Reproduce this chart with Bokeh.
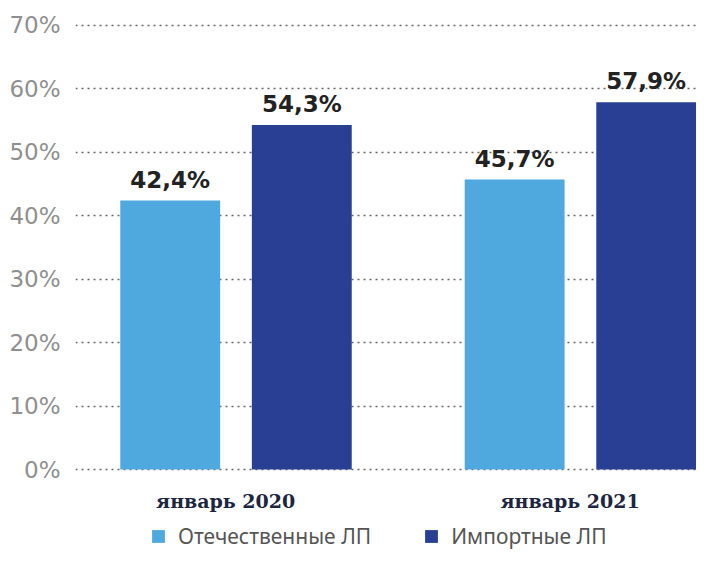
from bokeh.plotting import figure
from bokeh.layouts import column
from bokeh.models import ColumnDataSource, Range1d, FixedTicker, PrintfTickFormatter, Legend, LegendItem, LabelSet
from bokeh.transform import dodge
from bokeh.core.properties import value
from bokeh.embed import file_html
from bokeh.resources import INLINE

categories = ["январь 2020", "январь 2021"]
series = ["Отечественные ЛП", "Импортные ЛП"]
domestic = [42.4, 45.7]
imported = [54.3, 57.9]
colors = ["#4FA8DE", "#283F93"]
y_ticks = [0, 10, 20, 30, 40, 50, 60, 70]

xs = list(range(len(categories)))
src = ColumnDataSource(dict(
    x=xs, dom=domestic, imp=imported,
    dom_lbl=[f"{v:.1f}%".replace(".", ",") for v in domestic],
    imp_lbl=[f"{v:.1f}%".replace(".", ",") for v in imported],
))

p = figure(width=696, height=514, x_range=Range1d(-0.466, 1.337), y_range=Range1d(-0.31, 71.57),
           output_backend="svg", toolbar_location=None,
           min_border_left=75, min_border_right=0, min_border_top=15, min_border_bottom=42)
p.outline_line_color = None
p.background_fill_color = "white"

off = 0.191
w = 0.29
r1 = p.vbar(x=dodge("x", -off), top="dom", width=w, source=src, color=colors[0], line_color=None)
r2 = p.vbar(x=dodge("x", off), top="imp", width=w, source=src, color=colors[1], line_color=None)

for col, lbl, o in [("dom", "dom_lbl", -off), ("imp", "imp_lbl", off)]:
    p.add_layout(LabelSet(x=dodge("x", o), y=col, text=lbl, source=src, text_align="center",
                          text_baseline="bottom", y_offset=8, text_font=value("DejaVu Sans"),
                          text_font_style="bold", text_font_size="23px", text_color="#222222"))

p.xgrid.grid_line_color = None
p.ygrid.ticker = FixedTicker(ticks=y_ticks)
p.ygrid.grid_line_color = "#666666"
p.ygrid.grid_line_dash = "2 4"
p.ygrid.grid_line_width = 1.3

p.yaxis.ticker = FixedTicker(ticks=y_ticks)
p.yaxis.formatter = PrintfTickFormatter(format="%d%%")
p.yaxis.axis_line_color = None
p.yaxis.major_tick_line_color = None
p.yaxis.minor_tick_line_color = None
p.yaxis.major_label_text_font = "DejaVu Sans"
p.yaxis.major_label_text_font_size = "23px"
p.yaxis.major_label_text_color = "#8f8f8f"
p.yaxis.major_label_standoff = 9

label_shift = -0.03
tick_pos = [x + label_shift for x in xs]
p.xaxis.ticker = FixedTicker(ticks=tick_pos)
p.xaxis.major_label_overrides = {t: c for t, c in zip(tick_pos, categories)}
p.xaxis.axis_line_color = None
p.xaxis.major_tick_line_color = None
p.xaxis.minor_tick_line_color = None
p.xaxis.major_label_text_font = "DejaVu Serif"
p.xaxis.major_label_text_font_style = "bold"
p.xaxis.major_label_text_font_size = "19px"
p.xaxis.major_label_text_color = "#1d2640"
p.xaxis.major_label_standoff = 12

# legend strip below the chart (its frame is aligned with the chart's frame)
pl = figure(width=696, height=37, output_backend="svg", toolbar_location=None,
            x_axis_location=None, y_axis_location=None,
            x_range=Range1d(10, 11), y_range=Range1d(1000, 1001),
            min_border_left=0, min_border_right=0, min_border_top=0, min_border_bottom=0)
pl.outline_line_color = None
pl.grid.grid_line_color = None
l1 = pl.vbar(x="x", top="dom", width=0, source=src, color=colors[0], line_color=None)
l2 = pl.vbar(x="x", top="imp", width=0, source=src, color=colors[1], line_color=None)

legend = Legend(items=[LegendItem(label=series[0], renderers=[l1]),
                       LegendItem(label=series[1], renderers=[l2])],
                location=(75, 1), orientation="horizontal",
                glyph_width=16, glyph_height=16, label_standoff=12, spacing=52,
                padding=0, margin=0, border_line_color=None, background_fill_alpha=0,
                label_text_font="Noto Sans", label_text_font_size="21px", label_text_color="#555555")
pl.add_layout(legend)

layout = column(p, pl, spacing=0)
open("out.html", "w").write(file_html(layout, INLINE))
